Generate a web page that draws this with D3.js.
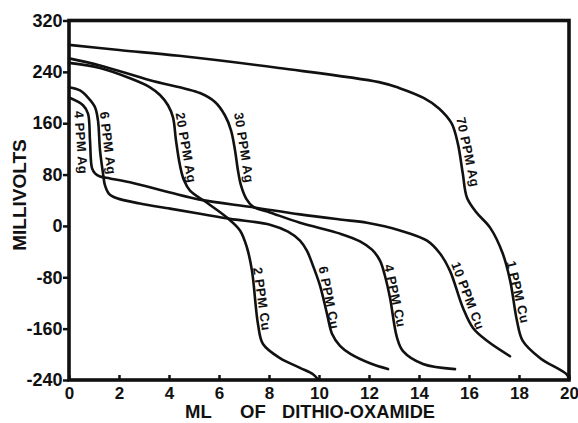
<!DOCTYPE html>
<html>
<head>
<meta charset="utf-8">
<script src="https://cdn.jsdelivr.net/npm/d3@7"></script>
<style>
  html, body { margin: 0; padding: 0; background: #fff; }
  svg { display: block; }
  text { font-family: "Liberation Sans", Arial, sans-serif; font-weight: bold; fill: #111; }
</style>
</head>
<body>
<svg id="chart" width="578" height="423"></svg>
<script>
// Potentiometric titration of silver + copper with dithio-oxamide
// x: ml of titrant, y: potential in millivolts

const xTicks = [0, 2, 4, 6, 8, 10, 12, 14, 16, 18, 20];
const yTicks = [320, 240, 160, 80, 0, -80, -160, -240];

// [ml, mV] along each titration curve (silver break first, then copper break)
const curveAg70Cu1 = [
  [0, 282], [2.0, 274], [4.4, 265], [8.4, 246], [12.4, 224], [13.2, 215],
  [14.2, 199], [14.8, 183], [15.3, 160], [15.55, 129], [15.75, 82], [15.92, 44],
  [16.3, 21], [16.85, -3], [17.35, -43], [17.65, -86], [17.92, -148],
  [18.15, -179], [18.85, -206], [19.9, -231], [20, -238]
];
const curveAg30Cu4 = [
  [0, 261], [1.24, 250], [3.24, 227], [5.24, 207], [5.84, 193], [6.24, 172],
  [6.48, 149], [6.64, 118], [6.76, 86], [6.88, 63], [7.08, 43], [7.36, 30],
  [8.04, 21], [9.24, 5], [10.84, -12], [11.64, -24], [12.12, -37], [12.44, -54],
  [12.64, -78], [12.84, -112], [13.12, -174], [13.36, -195], [14.16, -215],
  [15.44, -223]
];
const curveAg20Cu2 = [
  [0, 254], [1.24, 246], [2.44, 230], [3.24, 216], [3.64, 204], [3.96, 188],
  [4.16, 169], [4.28, 133], [4.44, 94], [4.6, 71], [4.84, 55], [5.52, 36],
  [6.32, 13], [6.84, -7], [7.12, -34], [7.32, -70], [7.56, -153], [7.76, -184],
  [8.44, -206], [9.24, -221], [9.76, -231], [9.96, -239]
];
const curveAg6Cu6 = [
  [0, 216], [0.44, 211], [0.76, 200], [1.04, 185], [1.16, 164], [1.24, 118],
  [1.36, 82], [1.44, 63], [1.6, 50], [1.92, 43], [2.84, 35], [4.04, 27],
  [5.24, 19], [6.44, 11], [8.04, 2], [8.76, -9], [9.24, -23], [9.52, -39],
  [9.76, -62], [10.04, -93], [10.32, -137], [10.52, -168], [10.84, -187],
  [11.24, -199], [12.04, -214], [12.76, -223]
];
const curveAg4Cu10 = [
  [0, 200], [0.56, 188], [0.76, 175], [0.84, 133], [0.92, 90], [1.04, 82],
  [1.24, 77], [1.64, 74], [2.44, 68], [4.04, 52], [5.24, 41], [7.36, 29],
  [9.24, 18], [10.84, 10], [11.92, 5], [13.24, -7], [14.32, -23], [14.84, -43],
  [15.24, -70], [15.76, -128], [16.16, -159], [16.72, -179], [17.64, -203]
];

const curves = [curveAg70Cu1, curveAg30Cu4, curveAg20Cu2, curveAg6Cu6, curveAg4Cu10];

// Curve annotations: text, anchor (ml, mV) and lettering angle
const labelText = [
  "4 PPM Ag", "6 PPM Ag", "20 PPM Ag", "30 PPM Ag", "70 PPM Ag",
  "2 PPM Cu", "6 PPM Cu", "4 PPM Cu", "10 PPM Cu", "1 PPM Cu"
];
const labelMl = [0.48, 1.56, 4.68, 7.0, 15.96, 7.72, 10.4, 13.04, 15.96, 17.96];
const labelMv = [130, 129, 122, 122, 115, -114, -112, -109, -109, -103];
const labelAngle = [86, 83, 80, 81, 78, 82, 79, 78, 69, 77];

const svg = d3.select("#chart");
const x = d3.scaleLinear().domain([0, 20]).range([69, 569]);
const y = d3.scaleLinear().domain([-240, 320]).range([380, 20.5]);

// Axes
const yAxis = d3.axisLeft(y).tickValues(yTicks).tickSize(6).tickPadding(0.5)
  .tickFormat(d => d < 0 ? "-" + Math.abs(d) : String(d));
const gy = svg.append("g").attr("transform", `translate(${x(0)},0)`).call(yAxis);
gy.select(".domain").remove();
gy.selectAll(".tick line").attr("stroke", "#111").attr("stroke-width", 2.5);
gy.selectAll(".tick text").attr("font-size", 18).attr("fill", "#111")
  .style("font-family", '"Liberation Sans", Arial, sans-serif').style("font-weight", "bold");

const xAxis = d3.axisBottom(x).tickValues(xTicks).tickSize(-5).tickPadding(6.5);
const gx = svg.append("g").attr("transform", `translate(0,${y(-240)})`).call(xAxis);
gx.select(".domain").remove();
gx.selectAll(".tick line").attr("stroke", "#111").attr("stroke-width", 2.5);
gx.selectAll(".tick text").attr("font-size", 17).attr("fill", "#111")
  .style("font-family", '"Liberation Sans", Arial, sans-serif').style("font-weight", "bold");

// Plot frame
svg.append("rect")
  .attr("x", x(0)).attr("y", y(320))
  .attr("width", x(20) - x(0)).attr("height", y(-240) - y(320))
  .attr("fill", "none").attr("stroke", "#111").attr("stroke-width", 3.6);

// Curves
const line = d3.line()
  .x(d => x(d[0])).y(d => y(d[1]))
  .curve(d3.curveCatmullRom.alpha(0.5));

svg.append("g").selectAll("path").data(curves).join("path")
  .attr("d", line)
  .attr("fill", "none")
  .attr("stroke", "#111")
  .attr("stroke-width", 2.6)
  .attr("stroke-linejoin", "round")
  .attr("stroke-linecap", "round");

// Curve labels, lettered downward along each break
svg.append("g").selectAll("text").data(labelText).join("text")
  .attr("transform", (d, i) => `translate(${x(labelMl[i])},${y(labelMv[i])}) rotate(${labelAngle[i]})`)
  .attr("text-anchor", "middle")
  .attr("dominant-baseline", "central")
  .attr("font-size", 13)
  .attr("letter-spacing", 0.5)
  .text(d => d);

// Axis titles
svg.append("text")
  .attr("transform", "translate(25.5,195) rotate(-90)")
  .attr("text-anchor", "middle")
  .attr("font-size", 19)
  .text("MILLIVOLTS");

svg.append("text").attr("x", 185).attr("y", 418).attr("font-size", 18.5).text("ML");
svg.append("text").attr("x", 240).attr("y", 418).attr("font-size", 18.5).text("OF");
svg.append("text").attr("x", 282).attr("y", 418).attr("font-size", 18.5)
  .attr("textLength", 153).attr("lengthAdjust", "spacingAndGlyphs")
  .text("DITHIO-OXAMIDE");
</script>
</body>
</html>
